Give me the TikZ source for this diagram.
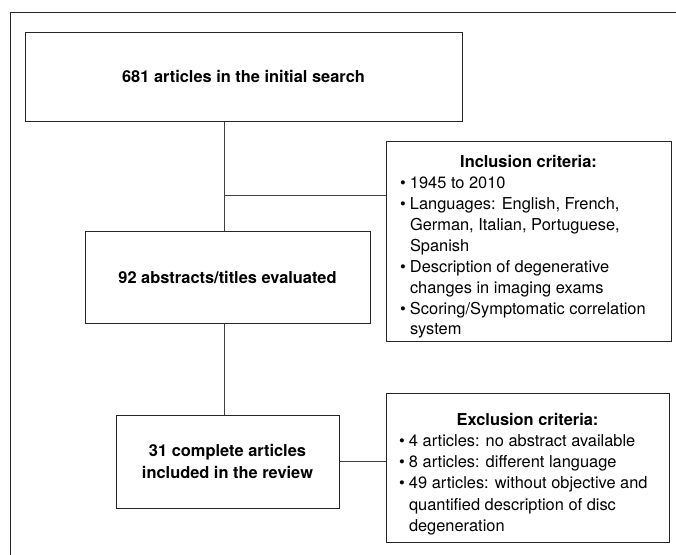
\documentclass[tikz,border=0pt]{standalone}
\usepackage{fontspec}
\setmainfont{TeX Gyre Heros}
\newcommand\bul{\makebox[10pt][l]{\textbullet}}
\newcommand\ind{\hspace*{10pt}}
\tikzset{
  frameline/.style={line width=1pt, draw=black!85},
  boxstyle/.style={draw=black!85, line width=1pt, rectangle, inner sep=0pt,
    font=\fontsize{16.4}{22.5}\selectfont},
  conn/.style={line width=1pt, draw=black!75},
}
\begin{document}
\begin{tikzpicture}[x=1pt,y=-1pt]
\useasboundingbox (0,0) rectangle (676,554);
\draw[frameline] (680,12) -- (10,12) -- (10,560);

\node[boxstyle, minimum width=437pt, minimum height=89pt] (b1) at (243.5,76.5)
  {\bfseries 681 articles in the initial search};
\node[boxstyle, minimum width=285pt, minimum height=92pt] (b2) at (227.5,277)
  {\bfseries 92 abstracts/titles evaluated};
\node[boxstyle, minimum width=223pt, minimum height=93pt, align=center] (b3) at (227.5,461.5)
  {\bfseries 31 complete articles\\\bfseries included in the review};
\node[boxstyle, minimum width=285pt, minimum height=200pt] (incl) at (528.5,241)
  {\parbox{257pt}{\vspace*{12pt}\fontsize{16.4}{20.9}\selectfont
   \centering{\bfseries Inclusion criteria:}\par
   \raggedright
   \bul 1945 to 2010\\
   \bul Languages: English, French,\\
   \ind German, Italian, Portuguese,\\
   \ind Spanish\\
   \bul Description of degenerative\\
   \ind changes in imaging exams\\
   \bul Scoring/Symptomatic correlation\\
   \ind system\par}};
\node[boxstyle, minimum width=283pt, minimum height=149pt] (excl) at (527.5,467.5)
  {\parbox{257pt}{\vspace*{13pt}\fontsize{16.4}{21.2}\selectfont
   \centering{\bfseries Exclusion criteria:}\par
   \raggedright
   \bul 4 articles: no abstract available\\
   \bul 8 articles: different language\\
   \bul 49 articles: without objective and\\
   \ind quantified description of disc\\
   \ind degeneration\par}};

\coordinate (v) at (224,0);
\coordinate (j) at (224,195);
\draw[conn] (b1.south -| v) -- (b2.north -| v);
\draw[conn] (j) -- (j -| incl.west);
\draw[conn] (b2.south -| v) -- (b3.north -| v);
\draw[conn] (b3.east) -- (b3.east -| excl.west);
\end{tikzpicture}
\end{document}
